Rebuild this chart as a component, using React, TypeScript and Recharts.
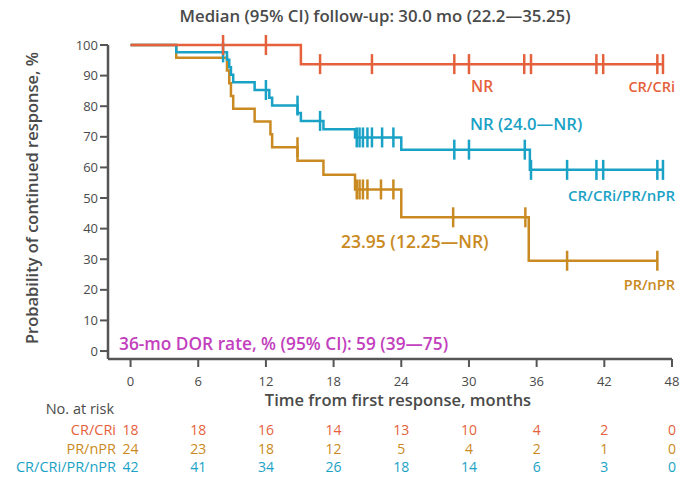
import { LineChart, Line, XAxis, YAxis } from "recharts";

const TIME_TICKS = [0, 6, 12, 18, 24, 30, 36, 42, 48];
const PROB_TICKS = [0, 10, 20, 30, 40, 50, 60, 70, 80, 90, 100];

// [months, % in continued response, censored (1) or event/start (0)]
const CR_CURVE: number[][] = [
  [0, 100, 0], [8.2, 100, 1], [12.0, 100, 1], [15.1, 93.75, 0],
  [16.8, 93.75, 1], [21.4, 93.75, 1], [28.7, 93.75, 1], [30.0, 93.75, 1],
  [34.9, 93.75, 1], [35.5, 93.75, 1], [41.3, 93.75, 1], [41.9, 93.75, 1],
  [46.7, 93.75, 1], [47.2, 93.75, 1],
];

const PR_CURVE: number[][] = [
  [0, 100, 0], [4.05, 95.8, 0], [8.55, 91.7, 0], [8.75, 87.5, 0],
  [8.9, 83.3, 0], [9.1, 79.2, 0], [11.0, 75.0, 0], [12.4, 70.8, 0],
  [12.55, 66.6, 0], [14.8, 66.6, 1], [14.8, 62.2, 0], [17.1, 57.6, 0],
  [19.9, 52.8, 0], [20.05, 52.8, 1], [20.3, 52.8, 1], [20.6, 52.8, 1],
  [21.0, 52.8, 1], [22.2, 52.8, 1], [23.3, 52.8, 1], [24.0, 43.7, 0],
  [28.6, 43.7, 1], [35.0, 43.7, 1], [35.3, 29.5, 0], [38.7, 29.5, 1],
  [46.7, 29.5, 1],
];

const ALL_CURVE: number[][] = [
  [0, 100, 0], [4.05, 97.6, 0], [8.2, 97.6, 1], [8.55, 95.2, 0],
  [8.75, 92.7, 0], [8.9, 90.3, 0], [9.1, 87.8, 0], [11.0, 85.3, 0],
  [12.0, 85.3, 1], [12.3, 82.8, 0], [12.55, 80.2, 0], [14.8, 80.2, 1],
  [14.8, 77.8, 0], [15.1, 75.2, 0], [16.8, 75.2, 1], [17.1, 72.5, 0],
  [19.9, 69.8, 0], [20.05, 69.8, 1], [20.3, 69.8, 1], [20.6, 69.8, 1],
  [21.0, 69.8, 1], [21.4, 69.8, 1], [22.3, 69.8, 1], [23.3, 69.8, 1],
  [24.0, 65.8, 0], [28.7, 65.8, 1], [30.0, 65.8, 1], [34.95, 65.8, 1],
  [35.4, 59.2, 0], [35.5, 59.2, 1], [38.7, 59.2, 1], [41.3, 59.2, 1],
  [41.9, 59.2, 1], [46.7, 59.2, 1], [47.2, 59.2, 1],
];

const CR_AT_RISK = [18, 18, 16, 14, 13, 10, 4, 2, 0];
const PR_AT_RISK = [24, 23, 18, 12, 5, 4, 2, 1, 0];
const ALL_AT_RISK = [42, 41, 34, 26, 18, 14, 6, 3, 0];

const RED = "#e5613b";
const GOLD = "#c98a22";
const TEAL = "#1aa2c6";
const MAGENTA = "#c23fbd";
const AXIS = "#555";
const TEXT = "#4a4a4a";
const FONT = "'Open Sans', sans-serif";

const RISK_ROWS = [
  { label: "CR/CRi", color: RED, values: CR_AT_RISK },
  { label: "PR/nPR", color: GOLD, values: PR_AT_RISK },
  { label: "CR/CRi/PR/nPR", color: TEAL, values: ALL_AT_RISK },
];

const toRows = (curve: number[][]) => curve.map(([t, s, c]) => ({ t, s, c }));

const censorDot = (color: string) => (props: any) => {
  const { cx, cy, payload, index } = props;
  if (!payload.c) return <g key={index} />;
  return (
    <line
      key={index}
      x1={cx}
      x2={cx}
      y1={cy - 10}
      y2={cy + 10}
      stroke={color}
      strokeWidth={2.5}
    />
  );
};

function TimeTick(props: any) {
  const { x, y, payload } = props;
  const i = TIME_TICKS.indexOf(payload.value);
  return (
    <g fontFamily={FONT}>
      <text x={x} y={y + 16.5} textAnchor="middle" fill={TEXT} fontSize={13}>
        {payload.value}
      </text>
      {RISK_ROWS.map((row, r) => (
        <text
          key={row.label}
          x={x}
          y={y + 66 + r * 18.5}
          textAnchor="middle"
          fill={row.color}
          fontSize={14}
        >
          {row.values[i]}
        </text>
      ))}
    </g>
  );
}

function ProbTick(props: any) {
  const { x, y, payload } = props;
  return (
    <text
      x={x}
      y={y + 4.5}
      textAnchor="end"
      fill={TEXT}
      fontFamily={FONT}
      fontSize={13}
    >
      {payload.value}
    </text>
  );
}

export default function App() {
  return (
    <div style={{ position: "absolute", left: 0, top: 0, width: 680, height: 484, background: "#fff" }}>
      <LineChart
        width={680}
        height={484}
        margin={{ top: 45, right: 8, left: 0, bottom: 0 }}
      >
        <XAxis
          type="number"
          dataKey="t"
          domain={[-2, 48]}
          ticks={TIME_TICKS}
          interval={0}
          height={125}
          tickSize={8}
          axisLine={{ stroke: AXIS, strokeWidth: 2.5 }}
          tickLine={{ stroke: AXIS, strokeWidth: 2 }}
          tick={<TimeTick />}
        />
        <YAxis
          type="number"
          domain={[-2.6, 100]}
          ticks={PROB_TICKS}
          interval={0}
          width={108}
          tickSize={8}
          axisLine={{ stroke: AXIS, strokeWidth: 2.5 }}
          tickLine={{ stroke: AXIS, strokeWidth: 2 }}
          tick={<ProbTick />}
        />
        <Line
          data={toRows(PR_CURVE)}
          dataKey="s"
          type="stepAfter"
          stroke={GOLD}
          strokeWidth={2.5}
          dot={censorDot(GOLD)}
          activeDot={false}
          isAnimationActive={false}
        />
        <Line
          data={toRows(ALL_CURVE)}
          dataKey="s"
          type="stepAfter"
          stroke={TEAL}
          strokeWidth={2.5}
          dot={censorDot(TEAL)}
          activeDot={false}
          isAnimationActive={false}
        />
        <Line
          data={toRows(CR_CURVE)}
          dataKey="s"
          type="stepAfter"
          stroke={RED}
          strokeWidth={2.5}
          dot={censorDot(RED)}
          activeDot={false}
          isAnimationActive={false}
        />
      </LineChart>
      <svg
        width={680}
        height={484}
        style={{ position: "absolute", left: 0, top: 0, pointerEvents: "none" }}
        fontFamily={FONT}
      >
        <text x={375} y={22} textAnchor="middle" fontSize={16.8} fontWeight={600} fill={TEXT}>
          Median (95% CI) follow-up: 30.0 mo (22.2—35.25)
        </text>
        <text
          transform="translate(38,198) rotate(-90)"
          textAnchor="middle"
          fontSize={16.5}
          fontWeight={600}
          fill={TEXT}
        >
          Probability of continued response, %
        </text>
        <text x={398} y={406} textAnchor="middle" fontSize={16.5} fontWeight={600} fill={TEXT}>
          Time from first response, months
        </text>
        <g fontWeight={600}>
          <text x={471} y={92} fill={RED} fontSize={15.5}>NR</text>
          <text x={675} y={92} textAnchor="end" fill={RED} fontSize={14.5}>CR/CRi</text>
          <text x={470} y={129.5} fill={TEAL} fontSize={16.7}>NR (24.0—NR)</text>
          <text x={675} y={201} textAnchor="end" fill={TEAL} fontSize={15}>CR/CRi/PR/nPR</text>
          <text x={341} y={247.5} fill={GOLD} fontSize={17.5}>23.95 (12.25—NR)</text>
          <text x={675} y={290} textAnchor="end" fill={GOLD} fontSize={14.5}>PR/nPR</text>
          <text x={119} y={350} fill={MAGENTA} fontSize={17.3}>36-mo DOR rate, % (95% CI): 59 (39—75)</text>
        </g>
        <g textAnchor="end">
          <text x={114} y={414} fill={TEXT} fontSize={14.5}>No. at risk</text>
          {RISK_ROWS.map((row, r) => (
            <text key={row.label} x={116} y={435 + r * 18.5} fill={row.color} fontSize={14.5}>
              {row.label}
            </text>
          ))}
        </g>
      </svg>
    </div>
  );
}
